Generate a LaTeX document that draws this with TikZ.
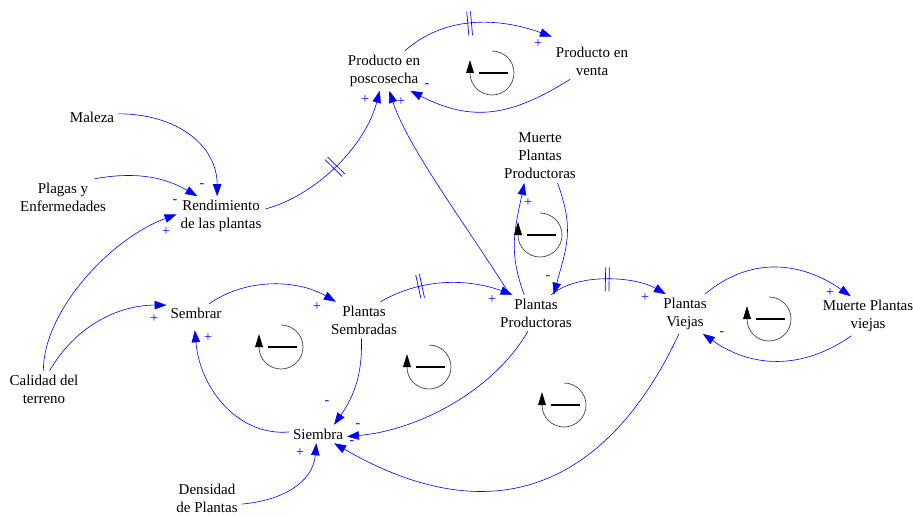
\documentclass[tikz,border=0pt]{standalone}
\usepackage{fontspec}
\setmainfont{Liberation Serif}
\usetikzlibrary{arrows.meta}
\definecolor{linkblue}{RGB}{0,0,255}
\definecolor{loopgray}{RGB}{70,70,70}
\begin{document}
\begin{tikzpicture}[x=1pt,y=1pt,
  vname/.style={align=center, font=\fontsize{15}{18}\selectfont, inner sep=2pt, outer sep=2pt},
  cause/.style={draw=linkblue, line width=0.6pt, -{Triangle[length=12pt,width=8.5pt]}},
  polsign/.style={text=linkblue, font=\fontsize{14}{14}\selectfont, inner sep=0pt},
  delaymk/.style={sloped, inner sep=0pt, text=linkblue},
  loopsym/.pic={
    \draw[loopgray, line width=0.7pt] (0,22) arc[start angle=90, end angle=-180, radius=22];
    \fill[black] (-26,0) -- (-18,0) -- (-22,13) -- cycle;
    \draw[black, line width=2pt] (-13,0) -- (16,0);
  }]
\useasboundingbox (0,0) rectangle (913,-516);

% variables
\node[vname] (pp)   at (384,-71)  {Producto en\\poscosecha};
\node[vname] (pv)   at (592,-61)  {Producto en\\venta};
\node[vname] (mal)  at (92,-117)  {Maleza};
\node[vname] (plg)  at (63,-197)  {Plagas y\\Enfermedades};
\node[vname] (ren)  at (221,-216) {Rendimiento\\de las plantas};
\node[vname] (mpp)  at (540,-156) {Muerte\\Plantas\\Productoras};
\node[vname] (sem)  at (196,-313) {Sembrar};
\node[vname] (ps)   at (364,-320) {Plantas\\Sembradas};
\node[vname] (prod) at (536,-313) {Plantas\\Productoras};
\node[vname] (vie)  at (685,-314) {Plantas\\Viejas};
\node[vname] (mpv)  at (868,-316) {Muerte Plantas\\viejas};
\node[vname] (cal)  at (44,-389)  {Calidad del\\terreno};
\node[vname] (sie)  at (318,-434) {Siembra};
\node[vname] (den)  at (207,-498) {Densidad\\de Plantas};

% delay mark drawn as two bars across a link
\newcommand{\delaybars}{\rule{0.7pt}{24pt}\hspace{3pt}\rule{0.7pt}{24pt}}

% causal links
\draw[cause] (pp.44) .. controls +(42:55) and +(160:55) .. ([yshift=6pt]pv.north west)
  node[delaymk,pos=0.47] (d1) {\delaybars};
\draw[cause] (pv.220) .. controls +(212:70) and +(-27:70) .. (pp.-37);
\draw[cause] (mal.7) .. controls +(0:60) and +(90:50) .. (ren.101);
\draw[cause] (plg.30) .. controls +(10:40) and +(150:40) .. (ren.140);
\draw[cause] (cal.92) .. controls +(90:60) and +(200:70) .. (ren.178);
\draw[cause] (cal.73) .. controls +(60:50) and +(180:50) .. (sem.165);
\draw[cause] (ren.9) .. controls +(15:50) and +(255:60) .. (pp.258)
  node[delaymk,pos=0.5] (d2) {\delaybars};
\draw[cause] (prod.145) .. controls +(122:80) and +(-72:60) .. (pp.-75);
\draw[cause] (sem.35) .. controls +(35:45) and +(150:45) .. (ps.147);
\draw[cause] (ps.48) .. controls +(30:50) and +(160:45) .. (prod.142)
  node[delaymk,pos=0.3] (d3) {\delaybars};
\draw[cause] (ps.-98) .. controls +(-88:40) and +(55:30) .. (sie.30);
\draw[cause] (sie.176) .. controls +(185:50) and +(-85:60) .. ([yshift=-8pt]sem.-97);
\draw[cause] (prod.-114) .. controls +(240:70) and +(5:70) .. (sie.-5);
\draw[cause] (vie.-107) .. controls +(245:150) and +(-30:200) .. (sie.-30);
\draw[cause] (den.-10) .. controls +(5:40) and +(-95:40) .. (sie.-100);
\draw[cause] (prod.123) .. controls +(110:45) and +(258:50) .. (mpp.240);
\draw[cause] (mpp.-57) .. controls +(-70:50) and +(75:50) .. (prod.46);
\draw[cause] (prod.50) .. controls +(40:35) and +(150:35) .. (vie.134)
  node[delaymk,pos=0.5] (d4) {\delaybars};
\draw[cause] (vie.45) .. controls +(40:60) and +(145:60) .. (mpv.131);
\draw[cause] (mpv.-130) .. controls +(-145:60) and +(-35:60) .. (vie.-48);

% link polarities
\node[polsign] (g1)  at (538,-44)  {+};
\node[polsign] (g2)  at (427,-86)  {-};
\node[polsign] (g3)  at (202,-186) {-};
\node[polsign] (g4)  at (175,-202) {-};
\node[polsign] (g5)  at (166,-232) {+};
\node[polsign] (g6)  at (154,-319) {+};
\node[polsign] (g7)  at (365,-100) {+};
\node[polsign] (g8)  at (401,-102) {+};
\node[polsign] (g9)  at (317,-307) {+};
\node[polsign] (g10) at (492,-300) {+};
\node[polsign] (g11) at (327,-403) {-};
\node[polsign] (g12) at (208,-338) {+};
\node[polsign] (g13) at (358,-426) {-};
\node[polsign] (g14) at (352,-443) {-};
\node[polsign] (g15) at (300,-453) {+};
\node[polsign] (g16) at (528,-203) {+};
\node[polsign] (g17) at (548,-278) {-};
\node[polsign] (g18) at (645,-298) {+};
\node[polsign] (g19) at (830,-293) {+};
\node[polsign] (g20) at (722,-334) {-};

% loop markers
\pic (lp1) at (492,-73)  {loopsym};
\pic (lp2) at (540,-235) {loopsym};
\pic (lp3) at (281,-347) {loopsym};
\pic (lp4) at (429,-367) {loopsym};
\pic (lp5) at (564,-405) {loopsym};
\pic (lp6) at (769,-319) {loopsym};
\end{tikzpicture}
\end{document}
